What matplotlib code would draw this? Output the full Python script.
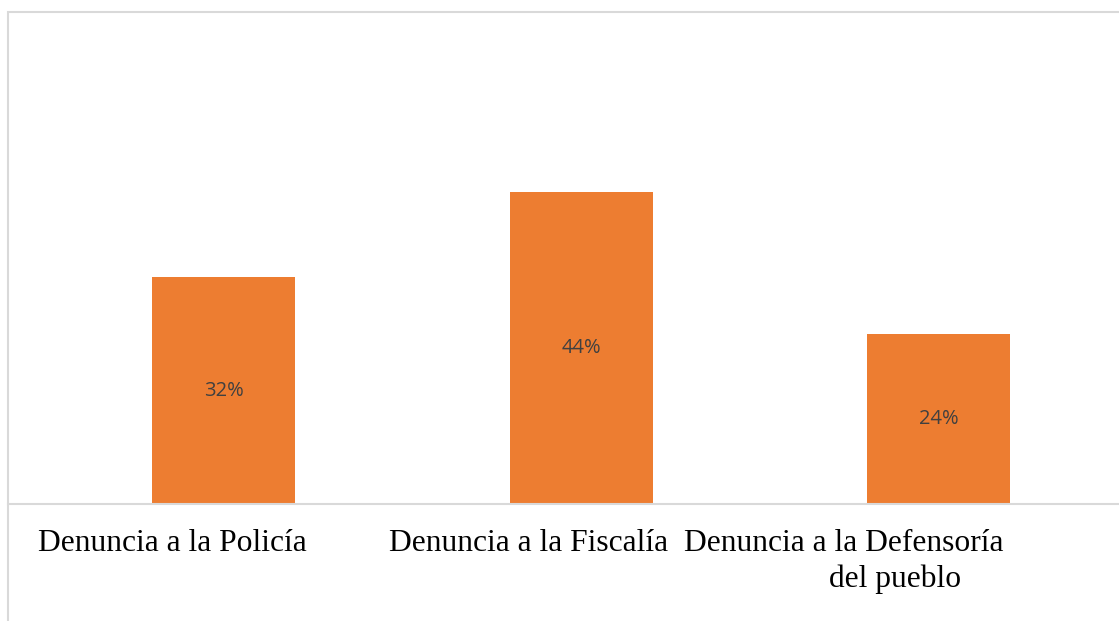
import matplotlib
matplotlib.use("Agg")
import matplotlib.pyplot as plt
from matplotlib.patches import Rectangle
from matplotlib.lines import Line2D

# data
categorias = ["Denuncia a la Policía", "Denuncia a la Fiscalía", "Denuncia a la Defensoría\ndel pueblo"]
porcentajes = [0.32, 0.44, 0.24]
etiquetas = ["32%", "44%", "24%"]

W, H = 1119, 621
fig = plt.figure(figsize=(W / 100, H / 100), dpi=100)
ax = fig.add_axes([45 / W, (H - 504) / H, 1072.5 / W, 354.5 / H])

gris = "#d9d9d9"
naranja = "#ED7D31"

# chart area border (top and left visible)
fig.patches.append(Rectangle((8 / W, -0.1), 1.2, (H - 12) / H + 0.1, transform=fig.transFigure,
                             fill=False, edgecolor=gris, linewidth=1.5))

x = list(range(len(categorias)))
bars = ax.bar(x, porcentajes, width=0.4, color=naranja, zorder=2)
ax.set_xlim(-0.5, 2.5)
ax.set_ylim(0, 0.5)
ax.axis("off")

# baseline
fig.lines.append(Line2D([8 / W, 1.0], [(H - 504) / H] * 2, transform=fig.transFigure,
                        color=gris, linewidth=1.5, zorder=1))

for b, t in zip(bars, etiquetas):
    ax.text(b.get_x() + b.get_width() / 2, b.get_height() / 2, t, ha="center", va="center",
            fontsize=14.5, color="#404040", family="Open Sans")

# category labels (offsets in px relative to bar centre)
desplaz = [[-51], [-53], [-95.5, -43.5]]
for i, (cat, offs) in enumerate(zip(categorias, desplaz)):
    for j, (linea, dx) in enumerate(zip(cat.split("\n"), offs)):
        ax.annotate(linea, xy=(i, 0), xycoords=("data", "axes fraction"),
                    xytext=(dx * 0.72, -(47 + 36 * j) * 0.72), textcoords="offset points",
                    ha="center", va="baseline", fontsize=22.7, family="Liberation Serif",
                    color="black", annotation_clip=False)

fig.savefig("out.png", dpi=100)
